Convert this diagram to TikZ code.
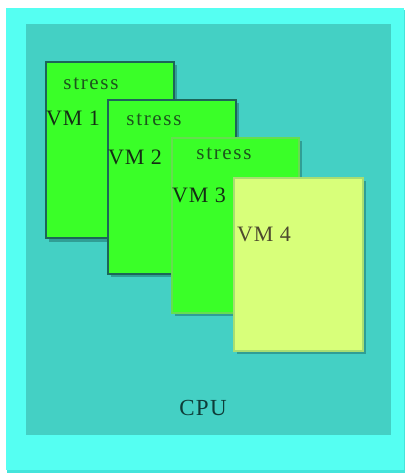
\documentclass[tikz,border=0pt]{standalone}
\usepackage{fontspec}
\setmainfont{Liberation Serif}
\definecolor{outercyan}{HTML}{55FFF2}
\definecolor{innerteal}{HTML}{44D0C4}
\definecolor{vmgreen}{HTML}{3AFF28}
\definecolor{vmlime}{HTML}{D8FF7A}
\definecolor{darkedge}{HTML}{1C6658}
\definecolor{lightedge}{HTML}{66DD50}
\definecolor{limeedge}{HTML}{A8DE72}
\definecolor{shadowteal}{HTML}{2A8E86}
\definecolor{labelgreen}{HTML}{142E14}
\definecolor{stressgreen}{HTML}{1C561C}
\definecolor{cputext}{HTML}{0E3C38}
\tikzset{
  vmbox/.style={draw, line width=1.5pt, anchor=north west, inner sep=0pt},
  vmshadow/.style={fill=shadowteal, opacity=0.75},
  vmlabel/.style={anchor=west, inner sep=0pt, text=labelgreen,
    font=\fontsize{22}{22}\selectfont\addfontfeature{LetterSpace=4}},
  stresslabel/.style={inner sep=0pt, text=stressgreen,
    font=\fontsize{21}{21}\selectfont\addfontfeature{LetterSpace=8}},
}
\begin{document}
\begin{tikzpicture}[x=1pt,y=-1pt]
\useasboundingbox (0,0) rectangle (405,474);
\fill[white] (0,0) rectangle (405,474);
% host frame and CPU area
\fill[outercyan!80!teal] (7,10) rectangle (405,473);
\node[fill=outercyan, inner sep=0pt, minimum width=398pt, minimum height=462pt, anchor=north west] (host) at (6,8) {};
\node[fill=innerteal, inner sep=0pt, minimum width=365pt, minimum height=411pt, anchor=north west] (cpuarea) at (26,24) {};
\node[text=cputext, inner sep=0pt, font=\fontsize{23}{23}\selectfont\addfontfeature{LetterSpace=6}] (cpu) at (203,408) {CPU};
% VM 1
\fill[vmshadow] (49,65) rectangle (177,242);
\node[vmbox, fill=vmgreen, draw=darkedge, minimum width=128pt, minimum height=176pt] (vm1) at (45,61) {};
\node[stresslabel] (s1) at (91,84) {stress};
\node[vmlabel] (l1) at (46,118) {VM 1};
% VM 2
\fill[vmshadow] (111,103) rectangle (239,277);
\node[vmbox, fill=vmgreen, draw=darkedge, minimum width=128pt, minimum height=174pt] (vm2) at (107,99) {};
\node[stresslabel] (s2) at (154,120) {stress};
\node[vmlabel] (l2) at (108,157) {VM 2};
% VM 3
\fill[vmshadow] (175,141) rectangle (302,316);
\node[vmbox, fill=vmgreen, draw=lightedge, minimum width=127pt, minimum height=175pt] (vm3) at (171,137) {};
\node[stresslabel] (s3) at (224,154) {stress};
\node[vmlabel] (l3) at (172,195) {VM 3};
% VM 4
\fill[vmshadow] (237,181) rectangle (366,354);
\node[vmbox, fill=vmlime, draw=limeedge, minimum width=129pt, minimum height=173pt] (vm4) at (233,177) {};
\node[vmlabel, text=black!60!olive] (l4) at (237,234) {VM 4};
\end{tikzpicture}
\end{document}
